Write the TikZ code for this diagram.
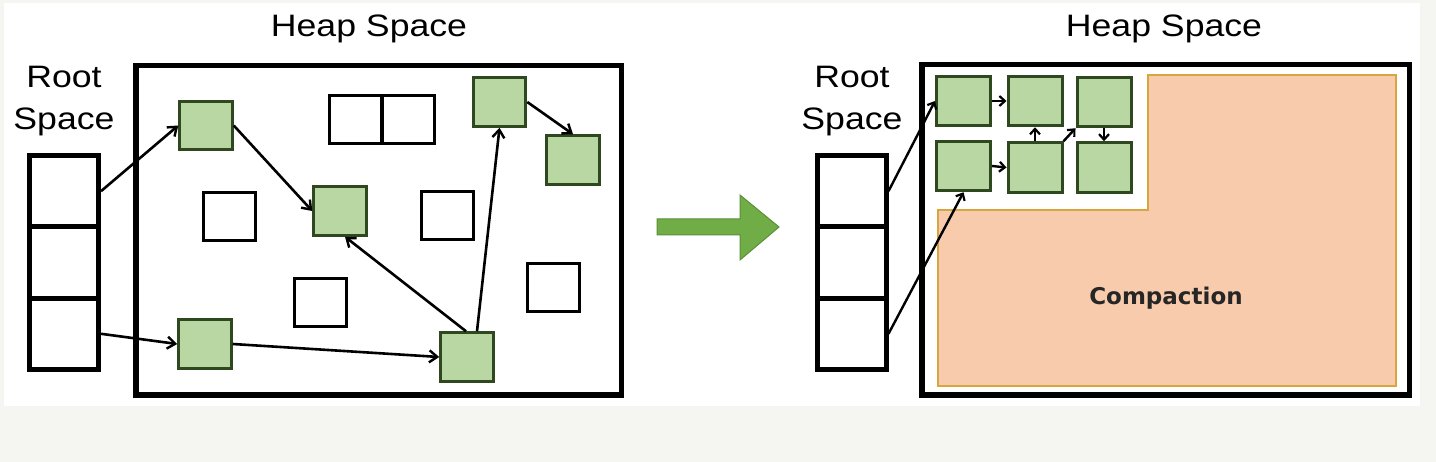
\documentclass[tikz,border=0pt]{standalone}
\usepackage{fontspec}
\setmainfont{Liberation Sans}
\newfontfamily\compfont{DejaVu Sans}
\usetikzlibrary{arrows.meta,calc}
\definecolor{gfill}{HTML}{B9D7A3}
\definecolor{gline}{HTML}{2F4820}
\definecolor{ofill}{HTML}{F8CBAD}
\definecolor{oline}{HTML}{D9A53F}
\definecolor{garrow}{HTML}{70AD47}
\definecolor{garrowline}{HTML}{5B8F38}
\definecolor{bgcol}{HTML}{F5F5F2}
\definecolor{comptext}{HTML}{262626}
\begin{document}
\begin{tikzpicture}[x=1pt,y=-1pt,
  obj/.style={draw=gline, fill=gfill, line width=3pt, minimum width=52.5pt, minimum height=48.5pt, inner sep=0pt},
  free/.style={draw=black, fill=white, line width=3pt, minimum width=52pt, minimum height=48pt, inner sep=0pt},
  cell/.style={draw=black, fill=white, line width=5pt, minimum width=69pt, minimum height=71.3pt, inner sep=0pt},
  heap/.style={draw=black, fill=white, line width=5.5pt, inner sep=0pt},
  title/.style={font=\fontsize{31}{42}\selectfont, anchor=base, inner sep=0pt},
  ref/.style={line width=2.6pt, -{Straight Barb[length=8pt,width=12pt,line width=2.4pt]}},
  sref/.style={line width=2.4pt, -{Straight Barb[length=5.5pt,width=10pt,line width=2.2pt]}},
]
\useasboundingbox (0,0) rectangle (1436,462);
\fill[bgcol] (0,0) rectangle (1436,462);
\fill[white] (4,3) rectangle (1420,406);

% ---------- left panel ----------
\node[title] (heapTL) at (369,37) {\scalebox{1.15}[1]{Heap Space}};
\node[title] (rootTL) at (64,88) {\scalebox{1.15}[1]{Root}};
\node[title] (spaceTL) at (64,130) {\scalebox{1.15}[1]{Space}};

\node[heap, minimum width=485.5pt, minimum height=329.5pt] (heapL) at (378.5,230.5) {};
\node[cell] (rl1) at (64,191.2) {};
\node[cell] (rl2) at (64,262.5) {};
\node[cell] (rl3) at (64,333.8) {};

\node[free] (f1) at (355.5,120) {};
\node[free] (f2) at (408.5,120) {};
\node[free] (f3) at (229,217) {};
\node[free] (f4) at (447,216) {};
\node[free] (f5) at (320,303) {};
\node[free] (f6) at (553,288) {};

\node[obj] (A) at (206,125.5) {};
\node[obj] (B) at (340,211) {};
\node[obj] (C) at (499.5,102) {};
\node[obj] (D) at (573,160) {};
\node[obj] (E) at (205,344) {};
\node[obj] (F) at (467,357) {};

\draw[ref] (rl1.east) -- (A.west);
\draw[ref] (A.east) -- (B.west);
\draw[ref] ([xshift=-1pt]F.north) -- ([xshift=5pt]B.south);
\draw[ref] ([xshift=10pt]F.north) -- (C.south);
\draw[ref] (C.east) -- (D.north);
\draw[ref] (rl3.east) -- (E.west);
\draw[ref] (E.east) -- (F.west);

% ---------- transition arrow ----------
\filldraw[fill=garrow, draw=garrowline, line width=1pt]
  (657,219) -- (740,219) -- (740,195) -- (779,227) -- (740,260) -- (740,235) -- (657,235) -- cycle;

% ---------- right panel ----------
\node[title] (heapTR) at (1164,37) {\scalebox{1.15}[1]{Heap Space}};
\node[title] (rootTR) at (852,88) {\scalebox{1.15}[1]{Root}};
\node[title] (spaceTR) at (852,130) {\scalebox{1.15}[1]{Space}};

\node[heap, minimum width=487.5pt, minimum height=330.5pt] (heapR) at (1165.5,230) {};
\node[cell] (rr1) at (851.5,191.2) {};
\node[cell] (rr2) at (851.5,262.5) {};
\node[cell] (rr3) at (851.5,333.8) {};

\filldraw[fill=ofill, draw=oline, line width=1.5pt]
  (938,210) -- (1148,210) -- (1148,75) -- (1396,75) -- (1396,386) -- (938,386) -- cycle;
\node[font=\compfont\bfseries\fontsize{23}{28}\selectfont, text=comptext, anchor=base, inner sep=0pt]
  (comp) at (1166,305) {Compaction};

\node[obj, minimum width=54pt, minimum height=49.5pt] (G1) at (963.5,101) {};
\node[obj, minimum width=54pt, minimum height=49.5pt] (G2) at (1035,101) {};
\node[obj, minimum width=54pt, minimum height=49.5pt] (G3) at (1104,102) {};
\node[obj, minimum width=54pt, minimum height=49.5pt] (G4) at (963.5,166) {};
\node[obj, minimum width=54pt, minimum height=49.5pt] (G5) at (1035,167.5) {};
\node[obj, minimum width=54pt, minimum height=49.5pt] (G6) at (1104,167.5) {};

\draw[sref] (rr1.east) -- (G1.west);
\draw[sref] (rr3.east) -- (G4.south);
\draw[sref] (G1.east) -- (G2.west);
\draw[sref] (G4.east) -- (G5.west);
\draw[sref] (G5.north) -- (G2.south);
\draw[sref] (G5.north east) -- (G3.south west);
\draw[sref] (G3.south) -- (G6.north);
\end{tikzpicture}
\end{document}
